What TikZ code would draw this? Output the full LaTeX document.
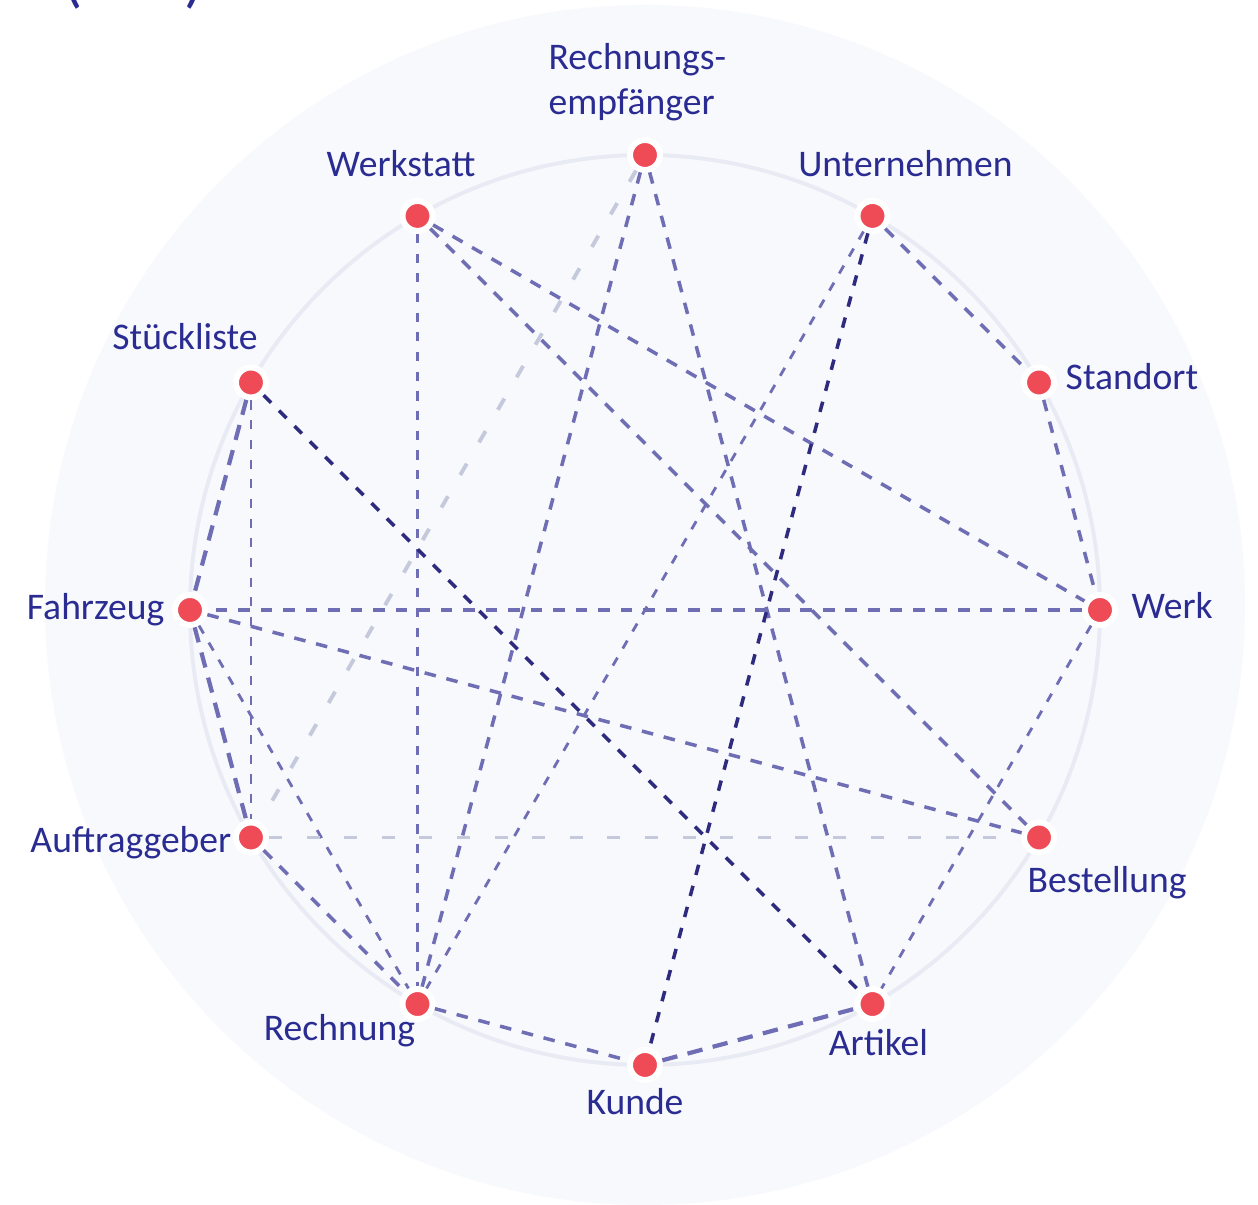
\documentclass[tikz,border=0pt]{standalone}
\usepackage{fontspec}
\setmainfont{Carlito}
\usetikzlibrary{positioning}
\definecolor{navytext}{HTML}{2A2C92}
\definecolor{dotred}{HTML}{EF4B56}
\definecolor{linkblue}{HTML}{6F6EB5}
\definecolor{linkdark}{HTML}{2E2A7E}
\definecolor{linkgray}{HTML}{C4CADC}
\definecolor{ringgray}{HTML}{E8EAF4}
\definecolor{disc}{HTML}{F8F9FD}

\begin{document}
\begin{tikzpicture}[
    entity/.style={circle,fill=dotred,draw=white,line width=0.06cm,minimum size=0.30cm,inner sep=0pt},
    lbl/.style={text=navytext,inner sep=0pt,font=\fontsize{10.7pt}{12.8pt}\selectfont},
    link/.style={draw=linkblue,line width=1.0pt,dash pattern=on 3.3pt off 3.1pt},
    thinlink/.style={draw=linkblue,line width=0.8pt,dash pattern=on 2.6pt off 3.0pt},
    boldlink/.style={draw=linkblue,line width=1.2pt,dash pattern=on 4.4pt off 3.0pt},
    darklink/.style={draw=linkdark,line width=1.0pt,dash pattern=on 3.0pt off 3.2pt},
    weaklink/.style={draw=linkgray,line width=1.1pt,dash pattern=on 3.7pt off 7.0pt}
    ]
        \path [use as bounding box,fill=white] (-6.45,-5.95) rectangle (6.13,6.10);
        \fill [disc] (0,0.05) circle (6.0);
        \draw [ringgray,line width=1.1pt] (0,0) circle (4.55);

        \node [lbl,font=\fontsize{18pt}{21pt}\selectfont,anchor=base west](heading) at (-5.82,6.09) {(\hspace{1.02cm})};

        \node [entity](rempf) at (90:4.55) {};
        \node [entity](unternehmen) at (60:4.55) {};
        \node [entity](standort) at (30:4.55) {};
        \node [entity](werk) at (0:4.55) {};
        \node [entity](bestellung) at (-30:4.55) {};
        \node [entity](artikel) at (-60:4.55) {};
        \node [entity](kunde) at (-90:4.55) {};
        \node [entity](rechnung) at (-120:4.55) {};
        \node [entity](auftraggeber) at (-150:4.55) {};
        \node [entity](fahrzeug) at (180:4.55) {};
        \node [entity](stueckliste) at (150:4.55) {};
        \node [entity](werkstatt) at (120:4.55) {};

        \node [lbl,align=left,above=0.33cm of rempf.center,anchor=south west,xshift=-0.97cm](rempfL) {Rechnungs-\\empfänger};
        \node [lbl,above=0.39cm of werkstatt.center,anchor=base,xshift=-0.165cm](werkstattL) {Werkstatt};
        \node [lbl,above=0.39cm of unternehmen.center,anchor=base,xshift=0.33cm](unternehmenL) {Unternehmen};
        \node [lbl,above=0.33cm of stueckliste.center,anchor=base,xshift=-0.66cm](stuecklisteL) {Stückliste};
        \node [lbl,right=0.26cm of standort.center,anchor=base west,yshift=-0.07cm](standortL) {Standort};
        \node [lbl,right=0.31cm of werk.center,anchor=base west,yshift=-0.09cm](werkL) {Werk};
        \node [lbl,below=0.55cm of bestellung.center,anchor=base,xshift=0.68cm](bestellungL) {Bestellung};
        \node [lbl,below=0.51cm of artikel.center,anchor=base,xshift=0.06cm](artikelL) {Artikel};
        \node [lbl,below=0.50cm of kunde.center,anchor=base,xshift=-0.10cm](kundeL) {Kunde};
        \node [lbl,below=0.36cm of rechnung.center,anchor=base,xshift=-0.78cm](rechnungL) {Rechnung};
        \node [lbl,left=0.19cm of auftraggeber.center,anchor=base east,yshift=-0.15cm](auftraggeberL) {Auftraggeber};
        \node [lbl,left=0.25cm of fahrzeug.center,anchor=base east,yshift=-0.10cm](fahrzeugL) {Fahrzeug};

        % relations
        \draw [thinlink] (werkstatt) edge (rechnung);
        \draw [link] (werkstatt) edge (werk);
        \draw [link] (werkstatt) edge (bestellung);
        \draw [link] (rempf) edge (rechnung);
        \draw [link] (rempf) edge (artikel);
        \draw [weaklink] (rempf) edge (auftraggeber);
        \draw [link] (unternehmen) edge (standort);
        \draw [thinlink] (unternehmen) edge (rechnung);
        \draw [darklink] (unternehmen) edge (kunde);
        \draw [link] (standort) edge (werk);
        \draw [link] (werk) edge (fahrzeug);
        \draw [thinlink] (werk) edge (artikel);
        \draw [boldlink] (stueckliste) edge (fahrzeug);
        \draw [thinlink] (stueckliste) edge (auftraggeber);
        \draw [darklink] (stueckliste) edge (artikel);
        \draw [link] (fahrzeug) edge (bestellung);
        \draw [boldlink] (fahrzeug) edge (auftraggeber);
        \draw [thinlink] (fahrzeug) edge (rechnung);
        \draw [weaklink] (auftraggeber) edge (bestellung);
        \draw [link] (auftraggeber) edge (rechnung);
        \draw [link] (rechnung) edge (kunde);
        \draw [boldlink] (kunde) edge (artikel);
\end{tikzpicture}
\end{document}
